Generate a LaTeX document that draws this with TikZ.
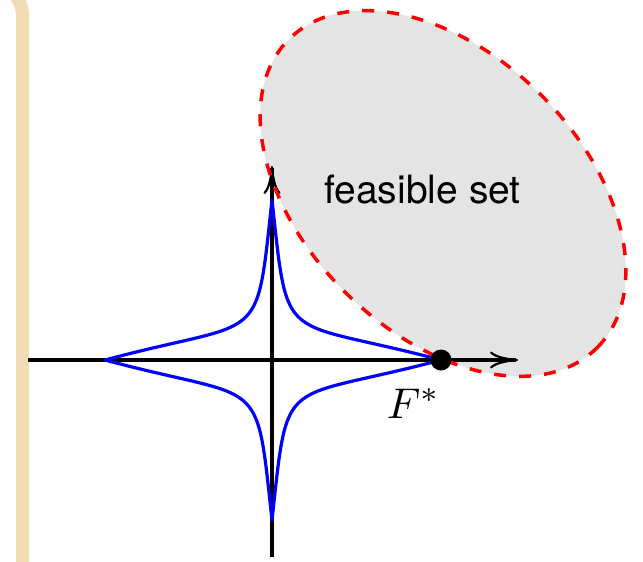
\documentclass[tikz,border=0pt]{standalone}
\usepackage{fontspec}
\setsansfont{TeX Gyre Heros}
\usetikzlibrary{arrows.meta}
\definecolor{beige}{RGB}{242,220,180}
\definecolor{setgray}{RGB}{228,228,228}
\tikzset{
  axis/.style={line width=3.2pt,-{Computer Modern Rightarrow[length=28pt,width=17pt,line width=2.2pt]}},
  pareto/.style={blue,line width=3.2pt,line cap=round,line join=round},
  border/.style={red,line width=3.5pt,dash pattern=on 12pt off 13pt},
}
\begin{document}
\begin{tikzpicture}[x=1pt,y=-1pt]
\useasboundingbox (0,0) rectangle (643,562);
% beige frame edge
\draw[beige,line width=13pt] (22.5,600) -- (22.5,15) .. controls (22.5,-1.6) and (9.1,-15) .. (-7.5,-15) -- (-60,-15);
% feasible set fill
\fill[setgray,rotate around={-45:(443,193.5)}] (443,193.5) ellipse [x radius=218pt,y radius=139pt];
% axes
\coordinate (xs) at (28,360);
\coordinate (xe) at (518,360);
\coordinate (ys) at (272,557);
\coordinate (ye) at (272,166);
\draw[axis] (xs) -- (xe);
\draw[axis] (ys) -- (ye);
% curve
\coordinate (L) at (105,360);
\coordinate (R) at (441,360);
\coordinate (T) at (272,200);
\coordinate (B) at (272,520);
\draw[pareto] (L) .. controls (265,317) and (255.5,350) .. (T)
  .. controls (288.5,350) and (279,317) .. (R)
  .. controls (279,403) and (288.5,370) .. (B)
  .. controls (255.5,370) and (265,403) .. (L);
% dashed border
\draw[border,rotate around={-45:(443,193.5)}] (443,193.5) ellipse [x radius=218pt,y radius=139pt];
% labels
\node[anchor=base,inner sep=0pt,font=\sffamily\fontsize{39}{47}\selectfont] (fs) at (422.5,203) {feasible set};
\fill (R) circle [radius=10.5pt];
\node[anchor=base west,inner sep=0pt,scale=4.3] (F) at (386,418) {$F^*$};
\end{tikzpicture}
\end{document}
